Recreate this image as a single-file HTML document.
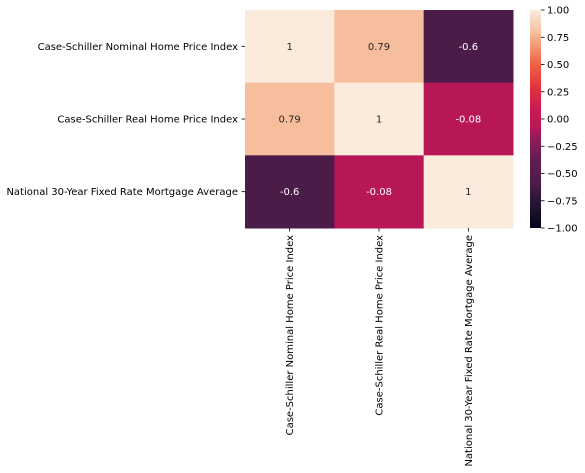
<!DOCTYPE html>
<html><head><meta charset="utf-8"><style>
body{margin:0;background:#fff;}
svg{display:block;font-family:"DejaVu Sans","Liberation Sans",sans-serif;}
</style></head><body>
<svg id="chart" width="585" height="473"></svg>
<script>
const labels = ["Case-Schiller Nominal Home Price Index","Case-Schiller Real Home Price Index","National 30-Year Fixed Rate Mortgage Average"];
const row0 = [1, 0.79, -0.6];
const row1 = [0.79, 1, -0.08];
const row2 = [-0.6, -0.08, 1];
const matrix = [row0,row1,row2];
const cbTicks = [1.00,0.75,0.50,0.25,0.00,-0.25,-0.50,-0.75,-1.00];

const NS="http://www.w3.org/2000/svg";
const svg=document.getElementById('chart');
function mk(t,a,p){const e=document.createElementNS(NS,t);for(const k in a)e.setAttribute(k,a[k]);(p||svg).appendChild(e);return e;}
const L=245,R=513,T=10,B=228;
const cw=(R-L)/labels.length, ch=(B-T)/labels.length;
const vmin=-1,vmax=1;
const stops=[[0,"03051a"],[0.1,"221331"],[0.2,"4b1c48"],[0.3,"5f1e52"],[0.4,"8a1c5b"],[0.46,"b81757"],[0.55,"cb1b4f"],[0.65,"e3343f"],[0.75,"f06043"],[0.85,"f4a07d"],[0.9,"f6c1a0"],[1,"faebdd"]];
function hex(h){return [0,2,4].map(i=>parseInt(h.substr(i,2),16));}
function color(v){const t=(v-vmin)/(vmax-vmin);for(let i=1;i<stops.length;i++){if(t<=stops[i][0]){const a=stops[i-1],b=stops[i];const f=(t-a[0])/(b[0]-a[0]);const c1=hex(a[1]),c2=hex(b[1]);return 'rgb('+c1.map((c,j)=>Math.round(c+(c2[j]-c)*f)).join(',')+')';}}return '#'+stops[stops.length-1][1];}
function lum(v){const t=(v-vmin)/(vmax-vmin);return t>0.7;}
matrix.forEach((row,r)=>row.forEach((v,c)=>{
  const x=L+c*cw,y=T+r*ch;
  const rect=mk('rect',{x:x,y:y,width:cw+0.5,height:ch+0.5,fill:color(v)});
  
  
  const tx=mk('text',{x:x+cw/2,y:y+ch/2+3.5,'text-anchor':'middle','font-size':10,fill:lum(v)?'#262626':'#ffffff'});
  tx.textContent=String(v);
  
  
}));
labels.forEach((lab,i)=>{
  const yc=T+(i+0.5)*ch;
  mk('line',{x1:L-3.5,x2:L,y1:yc,y2:yc,stroke:'#000','stroke-width':0.8});
  const t=mk('text',{x:L-7,y:yc+3.5,'text-anchor':'end','font-size':10,fill:'#000'});
  t.textContent=lab;
  
  
  const xc=L+(i+0.5)*cw;
  mk('line',{x1:xc,x2:xc,y1:B,y2:B+3.5,stroke:'#000','stroke-width':0.8});
  const t2=mk('text',{x:0,y:0,'text-anchor':'end','font-size':10,fill:'#000',transform:`translate(${xc+3.5},${B+7}) rotate(-90)`});
  t2.textContent=lab;
  
  
});
// colorbar
const CL=530,CR=541;
const defs=mk('defs',{});
const g=mk('linearGradient',{id:'cb',x1:0,y1:1,x2:0,y2:0},defs);
stops.forEach(s=>mk('stop',{offset:s[0],'stop-color':'#'+s[1]},g));
const cb=mk('rect',{x:CL,y:T,width:CR-CL,height:B-T,fill:'url(#cb)'});


cbTicks.forEach(v=>{
  const y=T+(vmax-v)/(vmax-vmin)*(B-T);
  mk('line',{x1:CR,x2:CR+3.5,y1:y,y2:y,stroke:'#000','stroke-width':0.8});
  const t=mk('text',{x:CR+6,y:y+3.5,'font-size':10,fill:'#000'});
  t.textContent=(v<0?'\u2212':'')+Math.abs(v).toFixed(2);
  
  
});
</script>
</body></html>
